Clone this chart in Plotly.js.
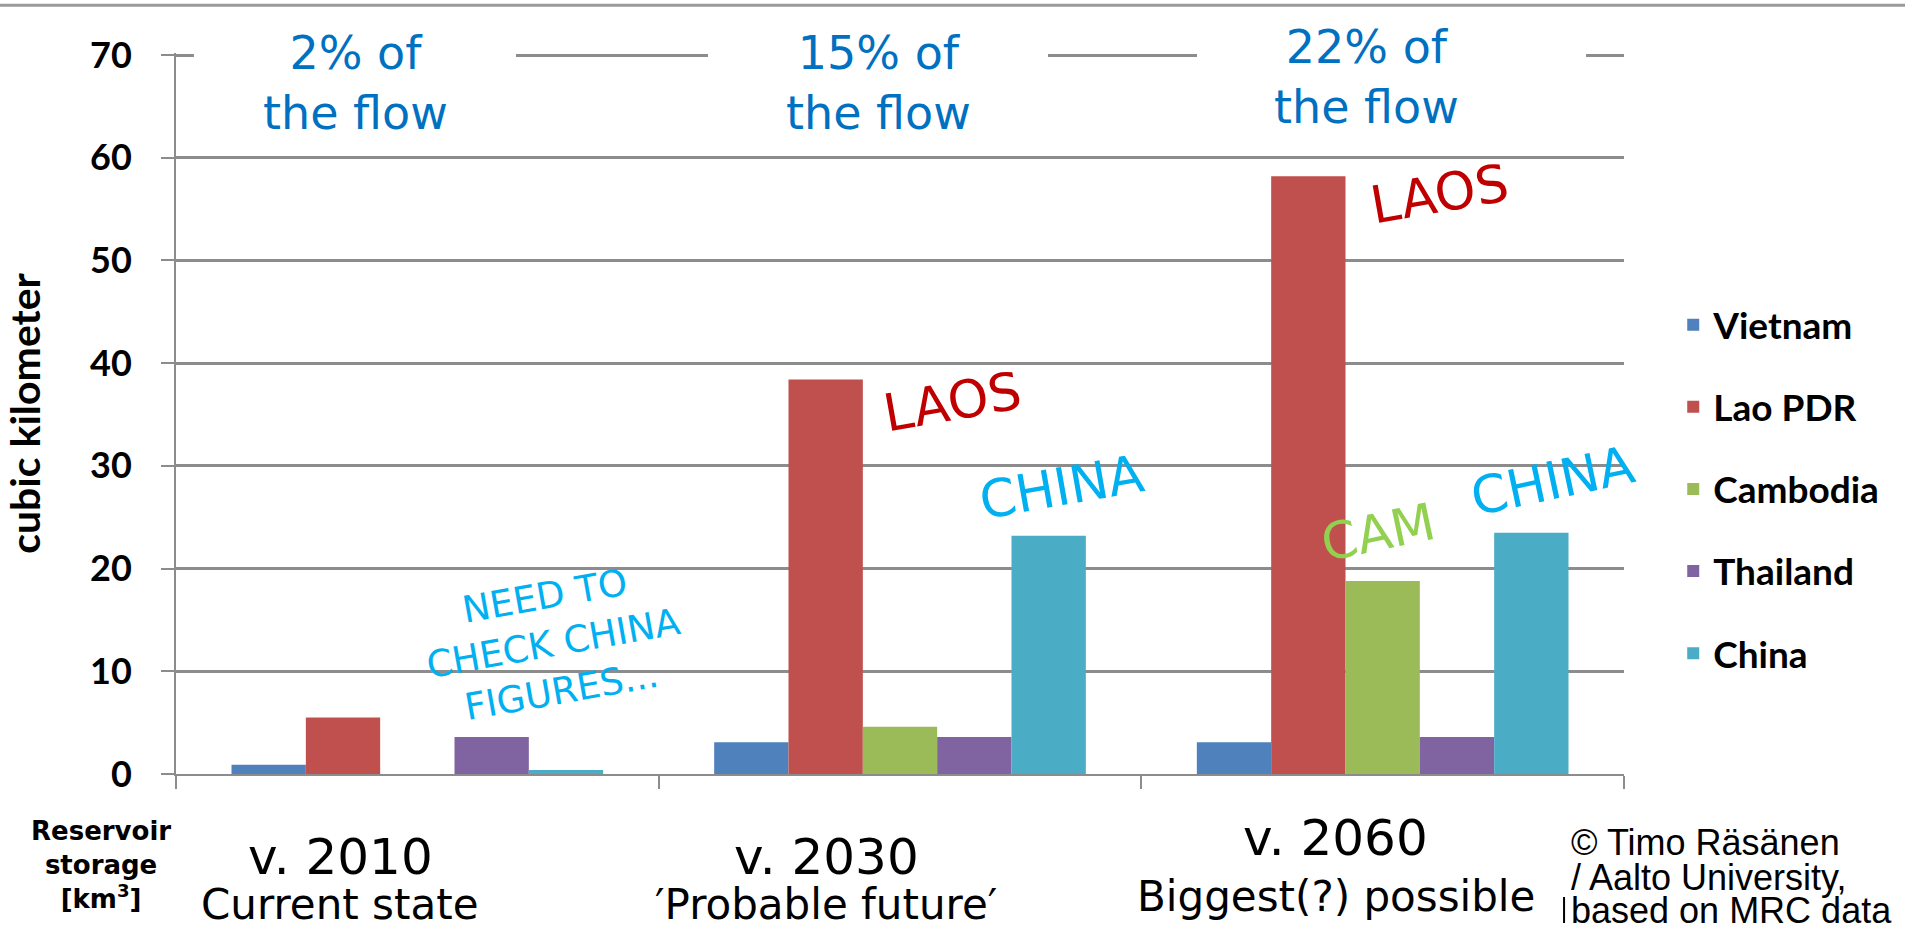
<!DOCTYPE html>
<html>
<head>
<meta charset="utf-8">
<script src="https://cdn.plot.ly/plotly-3.0.1.min.js"></script>
<style>html,body{margin:0;padding:0;background:#fff;}#chart{width:1905px;height:930px;}</style>
</head>
<body>
<div id="chart"></div>
<script>
// ---- data ----
const categories = ['v. 2010', 'v. 2030', 'v. 2060'];
const descriptions = ['Current state', '\u2032Probable future\u2032', 'Biggest(?) possible'];
const flowShares = ['2% of<br>the flow', '15% of<br>the flow', '22% of<br>the flow'];
const seriesNames = ['Vietnam', 'Lao PDR', 'Cambodia', 'Thailand', 'China'];
const vietnam = [0.9, 3.1, 3.1];
const laoPDR = [5.5, 38.4, 58.2];
const cambodia = [0, 4.6, 18.8];
const thailand = [3.6, 3.6, 3.6];
const china = [0.4, 23.2, 23.5];
const yTickValues = [0, 10, 20, 30, 40, 50, 60, 70];
const yTitle = 'cubic kilometer';
const unitLabel = 'Reservoir<br>storage<br>[km<sup>3</sup>]';
const creditLines = ['\u00A9 Timo R\u00E4s\u00E4nen', '/ Aalto University,', 'based on MRC data'];

// ---- styles ----
const seriesValues = [vietnam, laoPDR, cambodia, thailand, china];
const seriesColors = ['#4F81BD', '#C0504D', '#9BBB59', '#8064A2', '#4BACC6'];
const gray = '#8c8c8c';

const traces = seriesNames.map((name, i) => ({
  type: 'bar',
  name: name,
  x: categories,
  y: seriesValues[i],
  marker: {color: seriesColors[i]},
  legendgroup: 'g' + i,
  hoverinfo: 'name+y'
}));

const annotations = [];
// flow share texts on top
const flowShift = [-62, -22, -16];
const flowY = [0.9584, 0.9584, 0.9667];
categories.forEach((c, i) => {
  annotations.push({
    x: c, xref: 'x', xshift: flowShift[i], y: flowY[i], yref: 'paper', yanchor: 'middle',
    text: flowShares[i], showarrow: false,
    font: {family: 'DejaVu Sans', size: 46, color: '#0070C0'}
  });
});
// white text-box masks behind them (paper x extents)
const maskBoxes = [[0.0124, 0.2348], [0.3674, 0.6022], [0.7051, 0.9738]];

// category labels below
const yearShift = [-77, -74, -47];
const yearY = [-0.1151, -0.1151, -0.0888];
const descY = [-0.1815, -0.1815, -0.1700];
categories.forEach((c, i) => {
  annotations.push({
    x: c, xref: 'x', xshift: yearShift[i], y: yearY[i], yref: 'paper', yanchor: 'middle',
    text: c, showarrow: false, borderpad: 0,
    font: {family: 'DejaVu Sans', size: 50, color: '#000'}
  });
  annotations.push({
    x: c, xref: 'x', xshift: yearShift[i], y: descY[i], yref: 'paper', yanchor: 'middle',
    text: descriptions[i], showarrow: false, borderpad: 0,
    font: {family: 'DejaVu Sans', size: 42, color: '#000'}
  });
});
// country call-outs
const callouts = [
  {text: 'LAOS', cat: 1, dx: 52, y: 36.2, color: '#C00000', size: 52, angle: -10},
  {text: 'CHINA', cat: 1, dx: 162, y: 27.9, color: '#00B0F0', size: 52, angle: -10},
  {text: 'LAOS', cat: 2, dx: 57, y: 56.5, color: '#C00000', size: 52, angle: -10},
  {text: 'CAM', cat: 2, dx: -4, y: 23.5, color: '#92D050', size: 51, angle: -12},
  {text: 'CHINA', cat: 2, dx: 170, y: 28.5, color: '#00B0F0', size: 52, angle: -12},
  {text: 'NEED TO<br>CHECK CHINA<br>FIGURES...', cat: 0, dx: 136, y: 12.7, color: '#00B0F0', size: 37, angle: -10}
];
callouts.forEach(a => {
  annotations.push({
    x: categories[a.cat], xref: 'x', xshift: a.dx, y: a.y, yref: 'y',
    text: a.text, showarrow: false, textangle: a.angle,
    font: {family: 'DejaVu Sans', size: a.size, color: a.color}
  });
});
// unit label bottom-left
annotations.push({
  x: -0.0518, xref: 'paper', xanchor: 'center', y: -0.1262, yref: 'paper', yanchor: 'middle',
  text: unitLabel, showarrow: false,
  font: {family: 'DejaVu Sans', size: 26, color: '#000', weight: 700}
});
// credit lines bottom-right (left aligned)
const creditY = [-0.0957, -0.1429, -0.1900];
creditLines.forEach((t, i) => {
  annotations.push({
    x: 0.9627, xref: 'paper', xanchor: 'left', y: creditY[i], yref: 'paper', yanchor: 'middle',
    text: t, showarrow: false, borderpad: 0,
    font: {family: 'Liberation Sans', size: 36, color: '#000'}
  });
});

const shapes = [{
  type: 'line', xref: 'paper', yref: 'paper', x0: -0.13, x1: 1.2, y0: 1.0664, y1: 1.0664,
  line: {color: '#9a9a9a', width: 3}
}, {
  type: 'line', xref: 'paper', yref: 'paper', x0: 0.9586, x1: 0.9586, y0: -0.1706, y1: -0.2067,
  line: {color: '#000', width: 2}
}];
maskBoxes.forEach(b => {
  shapes.push({
    type: 'rect', xref: 'paper', yref: 'paper', x0: b[0], x1: b[1], y0: 0.975, y1: 1.02,
    fillcolor: '#ffffff', line: {width: 0}, layer: 'above'
  });
});

const layout = {
  width: 1905, height: 930,
  margin: {l: 176, r: 281, t: 53, b: 156, pad: 0},
  paper_bgcolor: '#ffffff', plot_bgcolor: '#ffffff',
  barmode: 'group', bargap: 0.23, bargroupgap: 0,
  showlegend: true,
  legend: {
    x: 1.034, xanchor: 'left', y: 0.395, yanchor: 'middle',
    font: {family: 'Lato', size: 37, color: '#000', weight: 700},
    tracegroupgap: 31, bgcolor: 'rgba(0,0,0,0)'
  },
  xaxis: {
    type: 'category', range: [-0.5, 2.5], autorange: false,
    showticklabels: false, ticks: 'outside', tickson: 'boundaries',
    ticklen: 13, tickwidth: 2, tickcolor: gray, showline: true, linecolor: gray, linewidth: 2,
    showgrid: false, zeroline: false, fixedrange: true
  },
  yaxis: {
    range: [0, 70.2], autorange: false, tickvals: yTickValues, ticks: 'outside', ticklen: 13, tickwidth: 2, tickcolor: gray,
    showline: true, linecolor: gray, linewidth: 2, showgrid: true, gridcolor: gray, gridwidth: 2.5,
    zeroline: false, ticklabelstandoff: 22,
    tickfont: {family: 'Lato', size: 36, color: '#000', weight: 700},
    title: {text: yTitle, standoff: 40, font: {family: 'Lato', size: 41, color: '#000', weight: 700}},
    fixedrange: true
  },
  annotations: annotations,
  shapes: shapes
};

Plotly.newPlot('chart', traces, layout, {displayModeBar: false});
</script>
</body>
</html>
